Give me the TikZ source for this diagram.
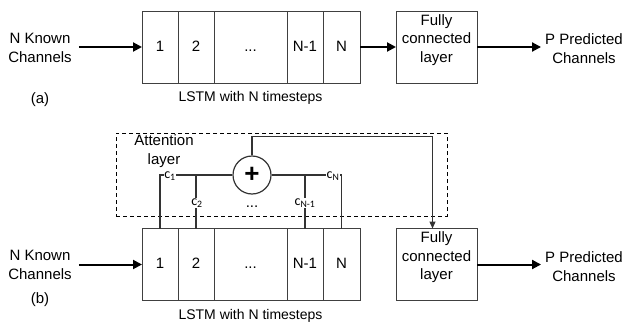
\documentclass[tikz,border=0pt]{standalone}
\usepackage{fontspec}
\setmainfont{Liberation Sans}
\newfontfamily\clbfont{Carlito}
\usetikzlibrary{arrows.meta,positioning}
\definecolor{BoxClr}{rgb}{0.25,0.25,0.25}
\definecolor{WireClr}{rgb}{0.2,0.2,0.2}
\newcommand{\mainsz}{\fontsize{15}{19}\selectfont}
\newcommand{\capsz}{\fontsize{14}{17}\selectfont}

\begin{document}
\begin{tikzpicture}[x=1pt,y=-1pt,
  cell/.style={draw=BoxClr,line width=1pt,minimum height=72pt,inner sep=0pt,outer sep=0pt,
    text height=11pt,text depth=3pt,font=\mainsz},
  fcbox/.style={draw=BoxClr,line width=1pt,minimum width=81pt,minimum height=72pt,inner sep=0pt,outer sep=0pt},
  txt/.style={align=center,inner sep=4pt,font=\mainsz},
  fctxt/.style={align=center,inner sep=0pt,font=\fontsize{15}{18.5}\selectfont},
  lstmcap/.style={inner sep=0pt,font=\capsz},
  arr/.style={line width=2pt,-{Triangle[length=9pt,width=9pt]}},
  wire/.style={draw=WireClr,line width=1.2pt},
  clabel/.style={fill=white,inner sep=0.5pt,font=\clbfont\fontsize{14}{14}\selectfont},
  attbox/.style={draw,line width=1pt,dash pattern=on 4pt off 3pt,minimum width=331pt,minimum height=83pt}]
\useasboundingbox (0,0) rectangle (626,324);

% (a) LSTM only
\node[txt] (ain) at (40,48) {N Known\\Channels};
\node[cell,minimum width=36pt] (a1) at (160,47) {1};
\node[cell,minimum width=36pt,right=0pt of a1] (a2) {2};
\node[cell,minimum width=73pt,right=0pt of a2] (a3) {...};
\node[cell,minimum width=36pt,right=0pt of a3] (a4) {N-1};
\node[cell,minimum width=37pt,right=0pt of a4] (a5) {N};
\node[fcbox] (afc) at (436.5,47) {};
\node[fctxt] (afctxt) at (436.5,40) {Fully\\connected\\layer};
\node[txt] (aout) at (584,49) {P Predicted\\Channels};
\node[lstmcap,below=8pt of a3] (acap) {LSTM with N timesteps};
\node[txt] (alab) at (40,100) {(a)};

\draw[arr,shorten <=3pt] (ain.east |- a1) -- (a1.west);
\draw[arr] (a5.east) -- (afc.west);
\draw[arr] (afc.east) -- (afc.east -| aout.west);

% (b) LSTM with attention
\node[attbox] (att) at (281.5,174.5) {};
\node[txt] (attl) at (164,151.5) {Attention\\layer};
\node[draw=WireClr,circle,line width=1.2pt,minimum size=38pt,inner sep=0pt,
  font=\fontsize{26}{26}\selectfont\bfseries] (sum) at (252,175) {+};

\node[txt] (bin) at (40,265) {N Known\\Channels};
\node[cell,minimum width=36pt] (b1) at (160,264.5) {1};
\node[cell,minimum width=36pt,right=0pt of b1] (b2) {2};
\node[cell,minimum width=73pt,right=0pt of b2] (b3) {...};
\node[cell,minimum width=36pt,right=0pt of b3] (b4) {N-1};
\node[cell,minimum width=37pt,right=0pt of b4] (b5) {N};
\node[fcbox] (bfc) at (436.5,264.5) {};
\node[fctxt] (bfctxt) at (436.5,257.5) {Fully\\connected\\layer};
\node[txt] (bout) at (584,266.5) {P Predicted\\Channels};
\node[lstmcap,below=9pt of b3] (bcap) {LSTM with N timesteps};
\node[txt] (blab) at (40,300) {(b)};

\draw[arr,shorten <=3pt] (bin.east |- b1) -- (b1.west);
\draw[arr] (bfc.east) -- (bfc.east -| bout.west);

\draw[wire] (sum.west) -| (b1.north);
\draw[wire] (sum.east) -| (b5.north);
\draw[wire] (b2.north) -- (b2.north |- sum);
\draw[wire] (b4.north) -- (b4.north |- sum);
\draw[wire,-{Triangle[length=7pt,width=6pt]}] (sum.north) -- ++(0,-19) -| ([xshift=-4pt]bfc.north);

\node[clabel] (c1) at (170,176) {c\textsubscript{1}};
\node[clabel] (c2) at (197,203) {c\textsubscript{2}};
\node[clabel] (cn1) at (305,203) {c\textsubscript{N-1}};
\node[clabel] (cn) at (333,176) {c\textsubscript{N}};
\node[txt] (bdots) at (252,207) {...};

\end{tikzpicture}
\end{document}
